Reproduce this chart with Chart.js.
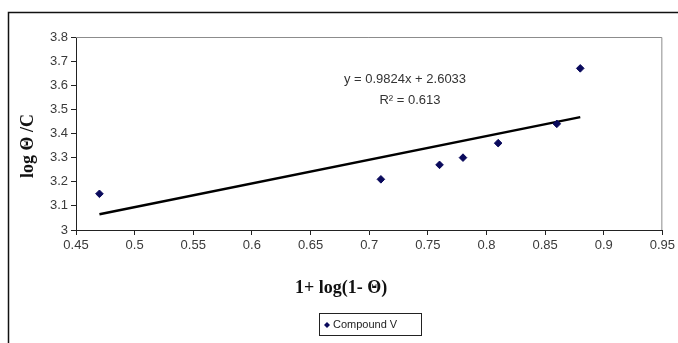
<!DOCTYPE html>
<html>
<head>
<meta charset="utf-8">
<script src="https://cdn.jsdelivr.net/npm/chart.js@4/dist/chart.umd.min.js"></script>
<style>
  html, body { margin: 0; padding: 0; background: #fff; }
  #wrap { width: 678px; height: 343px; position: relative; }
</style>
</head>
<body>
<div id="wrap"><canvas id="chart"></canvas></div>
<script>
const seriesName = 'Compound V';
const xValues = [0.47, 0.71, 0.76, 0.78, 0.81, 0.86, 0.88];
const yValues = [3.15, 3.21, 3.27, 3.30, 3.36, 3.44, 3.67];

const trendSlope = 0.9824;
const trendIntercept = 2.6033;
const trendRange = [0.47, 0.88];
const trendText = ['y = 0.9824x + 2.6033', 'R\u00b2 = 0.613'];

const xTicks = [0.45, 0.5, 0.55, 0.6, 0.65, 0.7, 0.75, 0.8, 0.85, 0.9, 0.95];
const yTicks = [3, 3.1, 3.2, 3.3, 3.4, 3.5, 3.6, 3.7, 3.8];

const xTitle = '1+ log(1- \u0398)';
const yTitle = 'log \u0398 /C';

const sans = '"Liberation Sans", Arial, sans-serif';
const serif = '"Liberation Serif", "Times New Roman", serif';
const markerColor = '#0a0a5c';

const points = xValues.map((x, i) => ({ x: x, y: yValues[i] }));
const trendPoints = trendRange.map(x => ({ x: x, y: trendSlope * x + trendIntercept }));

const decor = {
  id: 'decor',
  beforeDatasetsDraw(chart) {
    const ctx = chart.ctx;
    const a = chart.chartArea;
    ctx.save();
    ctx.strokeStyle = '#8c8c8c';
    ctx.lineWidth = 1;
    ctx.beginPath();
    ctx.moveTo(a.left, a.top + 0.5);
    ctx.lineTo(a.right - 0.5, a.top + 0.5);
    ctx.lineTo(a.right - 0.5, a.bottom);
    ctx.stroke();
    ctx.restore();
  },
  afterDraw(chart) {
    const ctx = chart.ctx;
    ctx.save();
    // outer frame (clipped at right and bottom in the original)
    ctx.strokeStyle = '#111';
    ctx.lineWidth = 1.5;
    ctx.strokeRect(8.5, 12.5, 720, 400);

    // axis titles
    ctx.fillStyle = '#111';
    ctx.font = 'bold 18px ' + serif;
    ctx.textAlign = 'center';
    ctx.textBaseline = 'middle';
    ctx.fillText(xTitle, 341, 288);
    ctx.translate(28, 146);
    ctx.rotate(-Math.PI / 2);
    ctx.fillText(yTitle, 0, 0);
    ctx.setTransform(1, 0, 0, 1, 0, 0);

    // trendline label
    ctx.fillStyle = '#333';
    ctx.font = '13px ' + sans;
    ctx.fillText(trendText[0], 405, 79);
    ctx.fillText(trendText[1], 410, 100);

    // legend box
    const bx = 319, by = 313, bw = 102, bh = 22;
    ctx.fillStyle = '#fff';
    ctx.fillRect(bx, by, bw, bh);
    ctx.strokeStyle = '#222';
    ctx.lineWidth = 1;
    ctx.strokeRect(bx + 0.5, by + 0.5, bw, bh);
    const ds = chart.data.datasets[0];
    ctx.fillStyle = ds.backgroundColor;
    ctx.beginPath();
    const mx = bx + 8, my = by + bh / 2 + 1, r = 3;
    ctx.moveTo(mx, my - r);
    ctx.lineTo(mx + r, my);
    ctx.lineTo(mx, my + r);
    ctx.lineTo(mx - r, my);
    ctx.closePath();
    ctx.fill();
    ctx.fillStyle = '#222';
    ctx.font = '11px ' + sans;
    ctx.textAlign = 'left';
    ctx.fillText(ds.label, bx + 14, by + bh / 2 + 1);
    ctx.restore();
  }
};

const fmt = v => String(parseFloat(Number(v).toFixed(2)));

new Chart(document.getElementById('chart'), {
  type: 'scatter',
  data: {
    datasets: [
      {
        label: seriesName,
        data: points,
        backgroundColor: markerColor,
        borderColor: markerColor,
        pointStyle: 'rectRot',
        pointRadius: 3.8,
        pointHoverRadius: 3.8
      },
      {
        type: 'line',
        label: 'Linear (' + seriesName + ')',
        data: trendPoints,
        borderColor: '#000',
        borderWidth: 2.5,
        pointRadius: 0,
        fill: false
      }
    ]
  },
  options: {
    responsive: true,
    maintainAspectRatio: false,
    animation: false,
    events: [],
    layout: { padding: { left: 0, top: 37, right: 15, bottom: 0 } },
    plugins: { legend: { display: false }, tooltip: { enabled: false } },
    scales: {
      x: {
        type: 'linear',
        min: 0.45,
        max: 0.95,
        afterBuildTicks: s => { s.ticks = xTicks.map(v => ({ value: v })); },
        afterFit: s => { s.height = 113; },
        grid: { drawOnChartArea: false, drawTicks: true, tickLength: 5, color: '#222' },
        border: { display: true, color: '#222', width: 1 },
        ticks: { callback: fmt, color: '#3a3a3a', padding: 3, maxRotation: 0, autoSkip: false,
                 font: { family: sans, size: 13 } }
      },
      y: {
        type: 'linear',
        min: 3,
        max: 3.8,
        afterBuildTicks: s => { s.ticks = yTicks.map(v => ({ value: v })); },
        afterFit: s => { s.width = 76; },
        grid: { drawOnChartArea: false, drawTicks: true, tickLength: 5, color: '#222' },
        border: { display: true, color: '#222', width: 1 },
        ticks: { callback: fmt, color: '#3a3a3a', padding: 3, autoSkip: false,
                 font: { family: sans, size: 13 } }
      }
    }
  },
  plugins: [decor]
});
</script>
</body>
</html>
